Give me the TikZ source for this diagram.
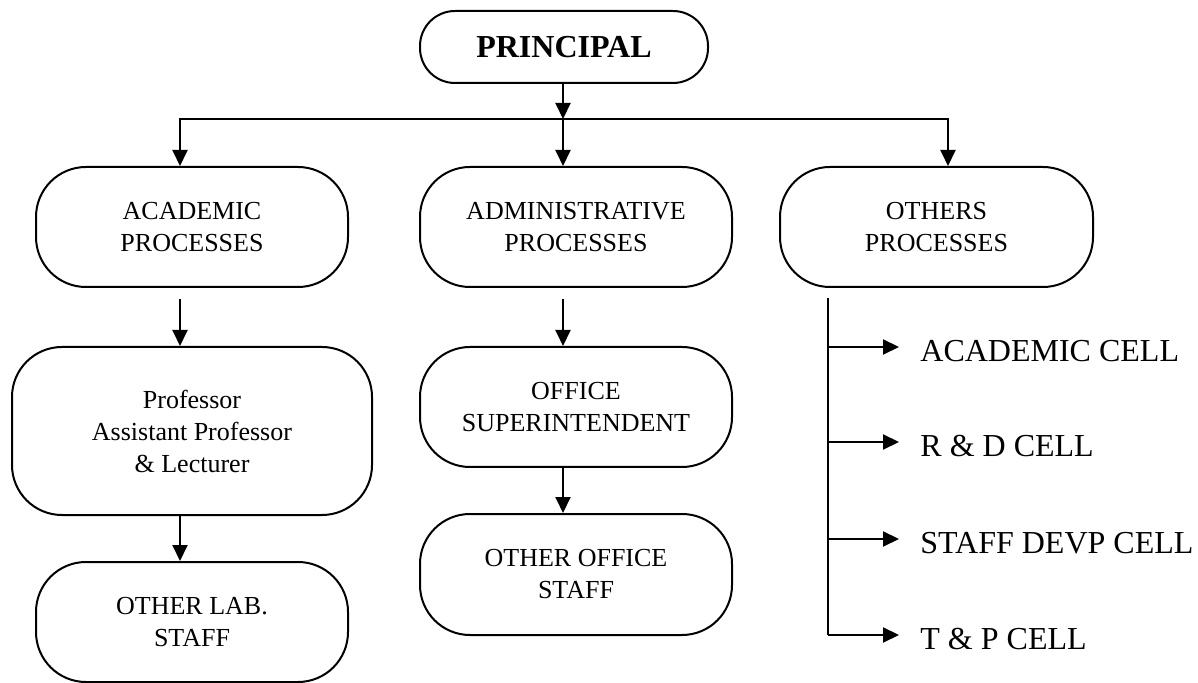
\documentclass[tikz,border=0pt]{standalone}
\usepackage{fontspec}
\setmainfont{Liberation Serif}
\usetikzlibrary{arrows.meta, positioning}

\tikzset{
  unit/.style={draw, line width=1pt, rounded corners=25pt, align=center,
    minimum width=156pt, minimum height=60pt, inner sep=0pt,
    font=\fontsize{13}{16}\selectfont},
  link/.style={line width=1pt, -{Triangle[length=8pt,width=7.5pt]}},
  celltext/.style={anchor=west, inner sep=0pt, font=\fontsize{16}{19}\selectfont}
}

\begin{document}
\begin{tikzpicture}[x=0.5pt, y=-0.5pt]
      \useasboundingbox (0,0) rectangle (1198,683);

      % head and the three process boxes
      \node[unit, minimum width=144pt, minimum height=36pt, rounded corners=17.5pt,
        font=\fontsize{16}{18}\selectfont\bfseries] (principal) at (564,47) {PRINCIPAL};
      \node[unit] (acad) at (192,227) {ACADEMIC\\PROCESSES};
      \node[unit] (admin) at (576,227) {ADMINISTRATIVE\\PROCESSES};
      \node[unit, minimum width=156.5pt] (others) at (936.5,227) {OTHERS\\PROCESSES};

      % columns below
      \node[unit, minimum width=180pt, minimum height=84pt] (prof) at (192,431) {Professor\\Assistant Professor\\\& Lecturer};
      \node[unit] (lab) at (192,622) {OTHER LAB.\\STAFF};
      \node[unit] (super) at (576,407) {OFFICE\\SUPERINTENDENT};
      \node[unit, minimum height=60.5pt] (office) at (576,574.5) {OTHER OFFICE\\STAFF};

      \coordinate (hub) at (563,119);
      \coordinate (hubL) at (180,119);
      \coordinate (hubR) at (948,119);

      \draw[link] (principal.south -| hub) -- (hub);
      \draw[link] (hub) -- (hub |- admin.north);
      \draw[link] (hub) -- (hubL) -- (hubL |- acad.north);
      \draw[link] (hub) -- (hubR) -- (hubR |- others.north);

      \draw[link, shorten <=5.5pt] (acad.south -| hubL) -- (prof.north -| hubL);
      \draw[link] (prof.south -| hubL) -- (lab.north -| hubL);
      \draw[link, shorten <=5.5pt] (admin.south -| hub) -- (super.north -| hub);
      \draw[link] (super.south -| hub) -- (office.north -| hub);

      % cells under others
      \coordinate (spinetop) at (828,298);
      \coordinate (spinebot) at (828,635);
      \draw[line width=1pt] (spinetop) -- (spinebot);
      \foreach \y/\txt [count=\i] in {347/ACADEMIC CELL, 442/R \& D CELL, 539/STAFF DEVP CELL, 635/T \& P CELL} {
        \node[celltext] (cell\i) at (920,\y+4) {\txt};
        \coordinate (tap\i) at (828,\y);
        \draw[link, shorten >=10.5pt] (tap\i) -- (tap\i -| cell\i.west);
      }
\end{tikzpicture}
\end{document}
